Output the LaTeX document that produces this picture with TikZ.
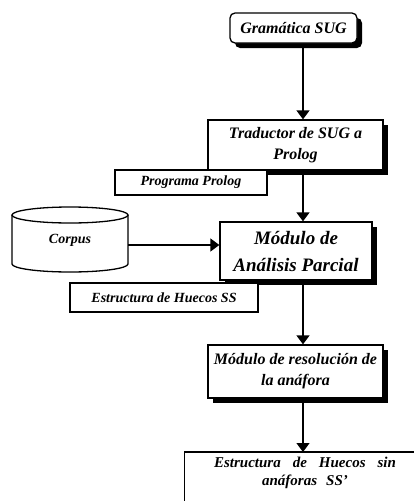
\documentclass[tikz,border=0pt]{standalone}
\usepackage{fontspec}
\setmainfont{Liberation Serif}
\usetikzlibrary{arrows.meta,shadows}
\begin{document}
\begin{tikzpicture}[x=1pt,y=-1pt,
  box/.style={draw=black, fill=white, line width=1.3pt, inner sep=2pt, align=center,
    font=\bfseries\itshape\fontsize{14}{19}\selectfont},
  shbox/.style={box, general shadow={fill=black, shadow xshift=5pt, shadow yshift=-5pt}},
  bigtext/.style={font=\bfseries\itshape\fontsize{16}{21}\selectfont},
  arr/.style={line width=1.3pt, -{Triangle[width=13pt,length=9pt]}}]
\useasboundingbox (0,0) rectangle (414,501);
\begin{scope}
\clip (0,0) rectangle (414,501);
% nodes
\node[shbox, bigtext, rounded corners=5pt, minimum width=127pt, minimum height=30pt] (g) at (293.5,28) {Gramática SUG};
\node[shbox, bigtext, minimum width=175pt, minimum height=50pt] (t) at (295.5,145) {Traductor de SUG a\\Prolog};
\node[box, minimum width=152pt, minimum height=25pt] (pp) at (191,182.5) {Programa Prolog};
\node[shbox, minimum width=152pt, minimum height=58pt, font=\bfseries\itshape\fontsize{19}{27}\selectfont] (m) at (296,251) {Módulo de\\Análisis Parcial};
\node[box, minimum width=188pt, minimum height=29pt] (e) at (164,297.5) {Estructura de Huecos SS};
\node[shbox, bigtext, minimum width=175pt, minimum height=53pt] (r) at (295.5,371.5) {Módulo de resolución de\\la anáfora};
\node[box, draw=none, fill=none, anchor=north, minimum width=240pt, inner ysep=4pt, font=\bfseries\itshape\fontsize{15}{18}\selectfont] (fin) at (305,452) {Estructura\hspace{0.8em}de\hspace{0.8em}Huecos\hspace{0.8em}sin\\anáforas\hspace{0.6em}SS\char"27};
\draw[line width=1.3pt] (fin.south west |- 0,520) -- (fin.north west) -- (fin.north east) -- (fin.south east |- 0,520);
% corpus cylinder
\draw[line width=1.3pt, fill=white] (12,215) -- (12,264) arc[start angle=180, end angle=360, x radius=58pt, y radius=8pt] -- (128,215);
\draw[line width=1.3pt] (70,215) ellipse[x radius=58pt, y radius=8pt];
\node[font=\bfseries\itshape\fontsize{14}{18}\selectfont] (corpus) at (70,240) {Corpus};
\coordinate (corpusR) at (128,245);
\coordinate (axis) at (303,0);
% connectors
\draw[arr] (g.south -| axis) -- (t.north -| axis);
\draw[arr] (t.south -| axis) -- (m.north -| axis);
\draw[arr] (m.south -| axis) -- (r.north -| axis);
\draw[arr] (r.south -| axis) -- (fin.north -| axis);
\draw[arr] (corpusR) -- (corpusR -| m.west);
\end{scope}
\end{tikzpicture}
\end{document}
